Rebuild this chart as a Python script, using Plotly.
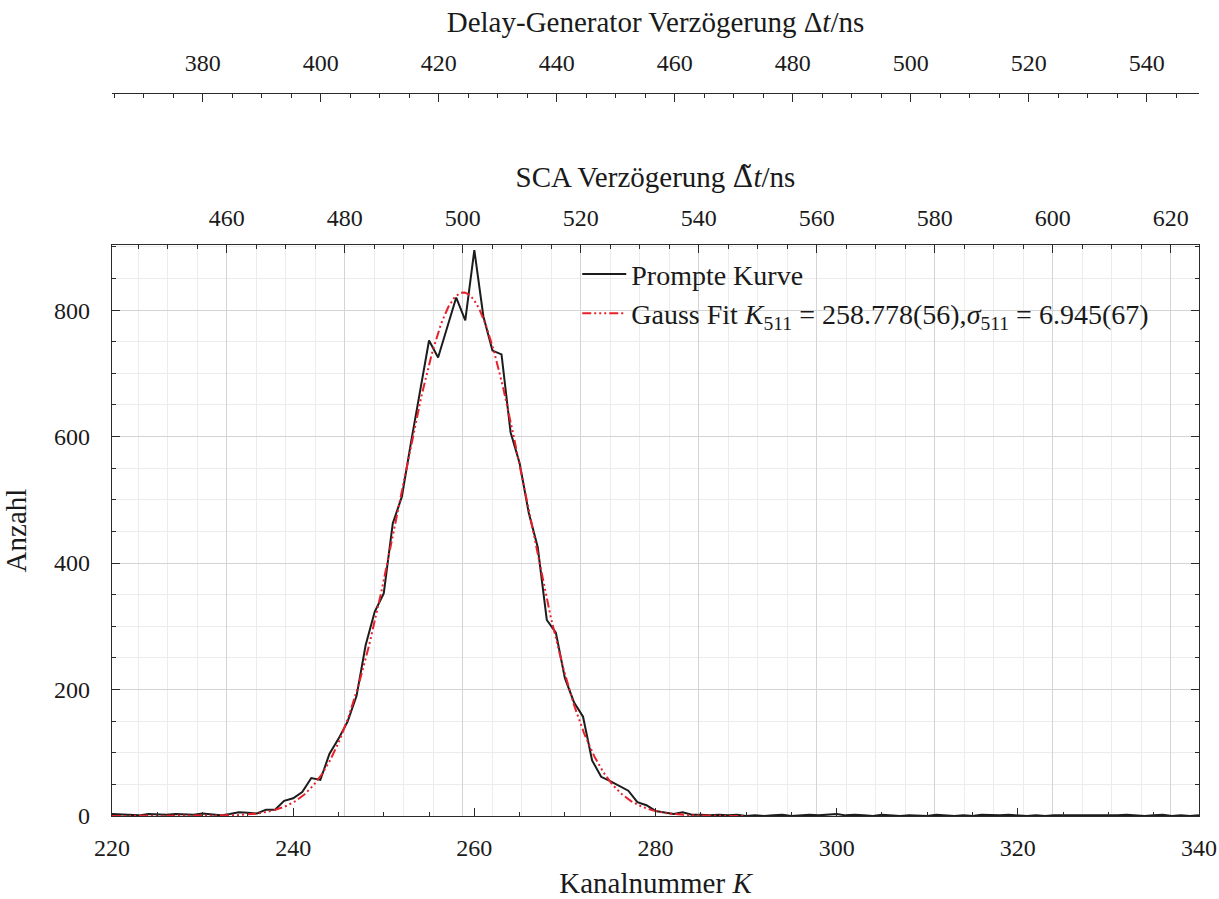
import numpy as np
import plotly.graph_objects as go

# Channel numbers and recorded counts of the prompt curve
channels = list(range(220, 341))
counts = [
    3, 2, 2, 1, 3, 2, 2, 3, 3, 2, 4, 2, 1, 3, 6, 5,
    4, 10, 10, 24, 28, 38, 60, 57, 98, 122, 149, 190, 270, 323, 352,
    463, 505, 590, 670, 752, 725, 772, 820, 784, 895, 790, 736, 730, 607, 558,
    480, 425, 310, 290, 218, 180, 157, 88, 62, 55, 48, 40, 22, 17, 8, 5, 3, 6, 2,
    2, 1, 2, 1, 2, 0, 1, 0, 1, 2, 0, 1, 2, 1, 2, 3, 1, 2, 1, 0, 2, 1, 0, 1, 1, 0,
    2, 1, 0, 1, 0, 2, 1, 1, 2, 1, 0, 1, 0, 1, 1, 0, 1, 0, 1, 0, 1, 2, 1, 0, 1, 2,
    0, 1, 0, 1,
]

# Gaussian fit parameters
fit_amplitude = 828.0
fit_center = 258.778
fit_sigma = 6.945
fit_range = (220.0, 290.0)

# Channel -> delay calibrations (ns)
sca_slope, sca_offset = 1.53533, 102.79
delay_shift = -75.93

K_MIN, K_MAX = 220, 340
Y_MAX = 903


def to_sca(k):
    return sca_slope * np.asarray(k, dtype=float) + sca_offset


def to_delay(k):
    return to_sca(k) + delay_shift


k_fit = np.linspace(fit_range[0], fit_range[1], 701)
y_fit = fit_amplitude * np.exp(-((k_fit - fit_center) ** 2) / (2 * fit_sigma ** 2))

FONT = "Liberation Serif"
FS = 24
LEG_FS = 28
AX = "#2b2b2b"

fig = go.Figure()

fig.add_trace(go.Scatter(
    x=channels, y=counts, mode="lines", name="Prompte Kurve",
    line=dict(color="#1c1c1c", width=2),
))
fig.add_trace(go.Scatter(
    x=k_fit, y=y_fit, mode="lines",
    name=("Gauss Fit <i>K</i><sub>511</sub> = 258.778(56),"
          "<i>σ</i><sub>511</sub> = 6.945(67)"),
    line=dict(color="#e8202a", width=2, dash="9px,3px,2px,3px,2px,3px,2px,3px"),
))
# helper traces that carry the two delay scales
fig.add_trace(go.Scatter(
    x=to_sca(channels), y=counts, xaxis="x2", yaxis="y", mode="lines",
    opacity=0, showlegend=False, hoverinfo="skip",
))
fig.add_trace(go.Scatter(
    x=to_delay(channels), y=counts, xaxis="x3", yaxis="y", mode="lines",
    opacity=0, showlegend=False, hoverinfo="skip",
))

y_top = 0.7173

fig.update_layout(
    width=1219, height=899,
    margin=dict(l=112, r=20, t=20, b=83, autoexpand=False),
    paper_bgcolor="white", plot_bgcolor="white",
    font=dict(family=FONT, size=FS, color="#1a1a1a"),
    showlegend=True,
    legend=dict(
        x=0.428, y=0.712, xanchor="left", yanchor="top",
        bgcolor="rgba(0,0,0,0)", font=dict(size=LEG_FS), tracegroupgap=0,
        itemwidth=44,
    ),
    xaxis=dict(
        range=[K_MIN, K_MAX], dtick=20, tick0=0, automargin=False,
        ticks="inside", ticklen=8, tickwidth=1.2, tickcolor=AX,
        minor=dict(dtick=5, ticks="inside", ticklen=4, tickcolor=AX, showgrid=False),
        showgrid=False, zeroline=False,
        showline=True, linecolor=AX, linewidth=1.3,
        ticklabelstandoff=10,
        title=dict(text="Kanalnummer <i>K</i>", standoff=23),
    ),
    yaxis=dict(
        range=[0, Y_MAX], dtick=200, tick0=0, domain=[0, y_top], automargin=False,
        ticks="inside", ticklen=8, tickwidth=1.2, tickcolor=AX,
        minor=dict(dtick=50, ticks="inside", ticklen=4, tickcolor=AX,
                   showgrid=True, gridcolor="#ececec", gridwidth=1),
        showgrid=True, gridcolor="#d4d4d4", gridwidth=1.2,
        zeroline=False, mirror="ticks",
        showline=True, linecolor=AX, linewidth=1.3,
        ticklabelstandoff=16,
        title=dict(text="Anzahl", standoff=20),
    ),
    xaxis2=dict(
        overlaying="x", side="top", anchor="y", automargin=False,
        range=[float(to_sca(K_MIN)), float(to_sca(K_MAX))], dtick=20, tick0=0,
        ticks="inside", ticklen=8, tickwidth=1.2, tickcolor=AX,
        minor=dict(dtick=5, ticks="inside", ticklen=4, tickcolor=AX,
                   showgrid=True, gridcolor="#ececec", gridwidth=1),
        showgrid=True, gridcolor="#d4d4d4", gridwidth=1.2, zeroline=False,
        showline=True, linecolor=AX, linewidth=1.3,
        ticklabelstandoff=8,
        title=dict(
            text="SCA Verzögerung <span style='font-family:DejaVu Serif'>Δ\u0303</span><i>t</i>/ns",
            standoff=9,
        ),
    ),
    xaxis3=dict(
        overlaying="x", side="top", anchor="free", position=0.9083, automargin=False,
        range=[float(to_delay(K_MIN)), float(to_delay(K_MAX))], dtick=20, tick0=0,
        ticks="inside", ticklen=8, tickwidth=1.2, tickcolor=AX,
        minor=dict(dtick=5, ticks="inside", ticklen=4, tickcolor=AX, showgrid=False),
        showgrid=False, zeroline=False,
        showline=True, linecolor=AX, linewidth=1.3,
        ticklabelstandoff=12,
        title=dict(text="Delay-Generator Verzögerung Δ<i>t</i>/ns", standoff=8),
    ),
)

fig.write_html("out.html")
